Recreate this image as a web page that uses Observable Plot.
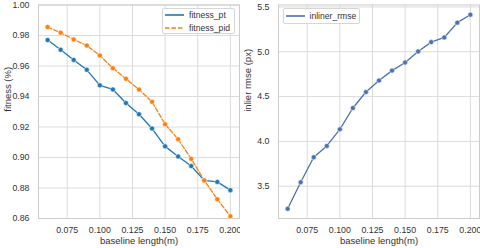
<!DOCTYPE html>
<html><head><meta charset="utf-8">
<script src="https://cdn.jsdelivr.net/npm/d3@7"></script>
<script src="https://cdn.jsdelivr.net/npm/@observablehq/plot@0.6"></script>
<style>
body{margin:0;background:#fff;font-family:"Liberation Sans",Arial,sans-serif;}
#wrap{position:relative;width:480px;height:248px;display:flex;}
.panel{width:240px;height:248px;}
.legend{position:absolute;box-sizing:border-box;background:#fff;border:1px solid #d6d6d6;border-radius:2px;font-size:8.6px;color:#333;}
.legend .row{position:absolute;left:0;height:10px;display:flex;align-items:center;}
.legend svg{display:block;}
</style>
</head><body>
<div id="wrap"><div class="panel" id="p1"></div><div class="panel" id="p2"></div></div>
<script>
const baseline = [0.06,0.07,0.08,0.09,0.10,0.11,0.12,0.13,0.14,0.15,0.16,0.17,0.18,0.19,0.20];
const fitnessPt = [0.977,0.9706,0.964,0.9575,0.9473,0.9446,0.9357,0.9284,0.919,0.9073,0.9007,0.8944,0.885,0.884,0.8786];
const fitnessPid = [0.9855,0.9818,0.9774,0.9734,0.9669,0.9586,0.9516,0.9446,0.9365,0.9218,0.912,0.8991,0.885,0.8726,0.8615];
const inlierRmse = [3.248,3.545,3.824,3.95,4.135,4.373,4.551,4.68,4.79,4.88,5.004,5.108,5.16,5.325,5.414];
const xTicks = [0.075,0.100,0.125,0.150,0.175,0.200];
const yTicksLeft = [0.86,0.88,0.90,0.92,0.94,0.96,0.98,1.00];
const yTicksRight = [3.5,4.0,4.5,5.0,5.5];
const seriesNames = ["fitness_pt","fitness_pid"];
const rightName = "inliner_rmse";
const xLabel = "baseline length(m)";
const yLabelLeft = "fitness (%)";
const yLabelRight = "inlier rmse (px)";
const colors = {fitness_pt:"#1f77b4", fitness_pid:"#ff7f0e", inliner_rmse:"#4c72b0"};

const fitTable = baseline.flatMap((b,i)=>[
  {b, v:fitnessPt[i], s:"fitness_pt"},
  {b, v:fitnessPid[i], s:"fitness_pid"}
]);
const rmseTable = baseline.map((b,i)=>({b, v:inlierRmse[i]}));

const common = {
  width:240, height:248, marginLeft:38, marginRight:1, marginTop:4.5, marginBottom:30,
  style:{fontFamily:"Liberation Sans, Arial, sans-serif", fontSize:"9px", color:"#333", background:"white", overflow:"visible"},
  x:{domain:[0.053,0.207]}
};
const grid = "#dcdcdc";
const tickFont = 8.8;
const labelFont = 9.5;

const xAxis = () => Plot.axisX(xTicks,{tickSize:0, tickPadding:8, tickFormat:d3.format(".3f"), label:null, fontSize:tickFont});
const xTitle = () => Plot.text([xLabel],{frameAnchor:"bottom", dy:22, lineAnchor:"middle", fontSize:labelFont, fill:"#333"});
const yTitle = (t) => Plot.text([t],{frameAnchor:"left", dx:-30.5, rotate:-90, lineAnchor:"middle", fontSize:labelFont, fill:"#333"});

const p1 = Plot.plot({
  ...common,
  y:{domain:[0.86,1.0]},
  marks:[
    Plot.gridX(xTicks,{stroke:grid, strokeOpacity:1}),
    Plot.gridY(yTicksLeft,{stroke:grid, strokeOpacity:1}),
    Plot.frame({stroke:"#cccccc"}),
    xAxis(), xTitle(), yTitle(yLabelLeft),
    Plot.axisY(yTicksLeft,{tickSize:0, tickPadding:9, tickFormat:d3.format(".2f"), label:null, fontSize:tickFont}),
    Plot.line(fitTable.filter(d=>d.s==="fitness_pt"),{x:"b", y:"v", stroke:colors.fitness_pt, strokeWidth:1.3}),
    Plot.line(fitTable.filter(d=>d.s==="fitness_pid"),{x:"b", y:"v", stroke:colors.fitness_pid, strokeWidth:1.3, strokeDasharray:"4.5,2"}),
    Plot.dot(fitTable,{x:"b", y:"v", fill:d=>colors[d.s], r:2.5, stroke:"white", strokeWidth:0.5})
  ]
});
document.getElementById("p1").append(p1);

const p2 = Plot.plot({
  ...common,
  y:{domain:[3.14,5.522]},
  marks:[
    Plot.gridX(xTicks,{stroke:grid, strokeOpacity:1}),
    Plot.gridY(yTicksRight,{stroke:grid, strokeOpacity:1}),
    Plot.frame({stroke:"#cccccc"}),
    xAxis(), xTitle(), yTitle(yLabelRight),
    Plot.axisY(yTicksRight,{tickSize:0, tickPadding:9, tickFormat:d3.format(".1f"), label:null, fontSize:tickFont}),
    Plot.line(rmseTable,{x:"b", y:"v", stroke:colors.inliner_rmse, strokeWidth:1.3}),
    Plot.dot(rmseTable,{x:"b", y:"v", fill:colors.inliner_rmse, r:2.5, stroke:"white", strokeWidth:0.5})
  ]
});
document.getElementById("p2").append(p2);

function legend(left, top, w, h, items){
  const box = document.createElement("div");
  box.className = "legend";
  Object.assign(box.style,{left:left+"px", top:top+"px", width:w+"px", height:h+"px"});
  items.forEach((it,i)=>{
    const row = document.createElement("div");
    row.className = "row";
    row.style.top = (it.cy - 5)+"px";
    row.innerHTML = `<svg width="26" height="10"><line x1="2" x2="21" y1="5" y2="5" stroke="${colors[it.name]}" stroke-width="1.6" ${it.dash?'stroke-dasharray="4.5,2"':''}/></svg><span>${it.name}</span>`;
    box.append(row);
  });
  document.getElementById("wrap").append(box);
}
legend(162, 8, 73, 26, [{name:seriesNames[0], cy:6},{name:seriesNames[1], cy:19, dash:true}]);
legend(282.5, 8, 77, 16, [{name:rightName, cy:6.5}]);
</script>
</body></html>
